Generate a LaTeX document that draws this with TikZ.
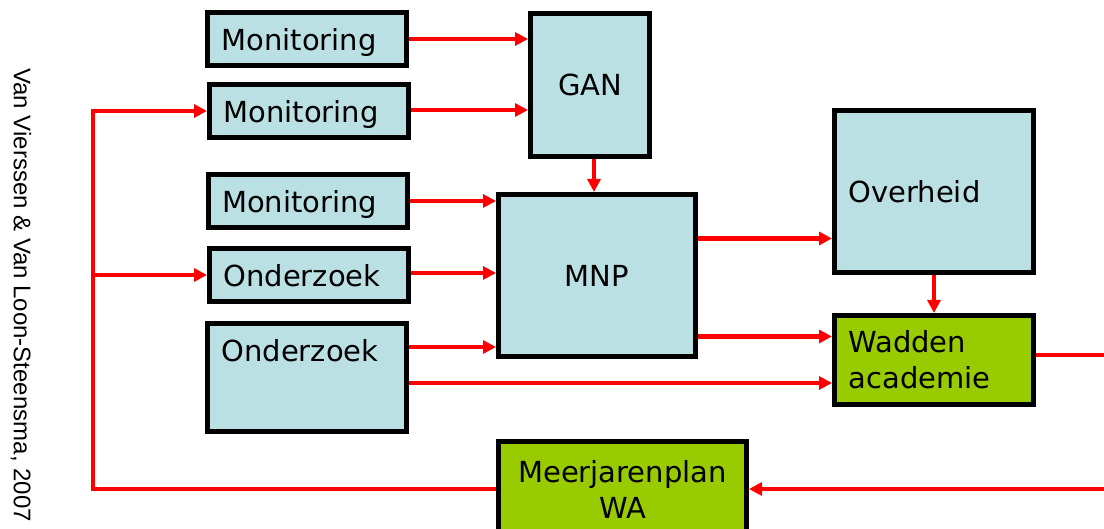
\documentclass[tikz,border=0pt]{standalone}
\usepackage{fontspec}
\setmainfont{DejaVu Sans}
\newfontfamily\bronfont{Liberation Sans}
\usepackage{tikz}
\usetikzlibrary{arrows.meta,calc,positioning}
\definecolor{lichtblauw}{RGB}{187,224,227}
\definecolor{wadgroen}{RGB}{153,204,0}
\tikzset{every picture/.style={
  >={Triangle[length=13pt,width=13pt]}   % Filled triangle tips.
  }
}

\begin{document}
\begin{tikzpicture}[
        x=1pt,
        y=-1pt,
        blok/.style={
          draw,
          line width=5pt,
          fill=#1,
          inner xsep=14pt,
          inner ysep=0pt,
          font=\fontsize{29}{36}\selectfont
        },
        blok/.default=lichtblauw,
        smal/.style={
          blok,
          align=left,
          text width=171pt,
          text depth=0pt,
          minimum height=53pt
        },
        stroom/.style={
          draw=red,
          line width=4.5pt
        }]

        \useasboundingbox (0,0) rectangle (1104,529);

        % Helper macro: horizontal link from a box to the box on its right.
        \def\h#1#2#3{\draw[stroom,->] ([yshift=#3]#1.east)
          -- ([yshift=#3]#1.east -| #2.west);}

        % Source.
        \node[font=\bronfont\fontsize{24}{24}\selectfont,rotate=-90] (bron)
          at (21,295) {Van Vierssen \& Van Loon-Steensma, 2007};

        % Draw the boxes.
        \node[smal] (mon1) at (307,39)    {Monitoring};
        \node[smal] (mon2) at (309,111)   {Monitoring};
        \node[smal] (mon3) at (307.5,201) {Monitoring};
        \node[smal] (ond1) at (309,275)   {Onderzoek};
        \node[blok,align=left,text width=171pt,
          text height=38pt,text depth=70pt] (ond2) at (307,378) {Onderzoek};
        \node[blok,minimum width=119pt,minimum height=143pt] (gan) at (590,85) {GAN};
        \node[blok,minimum width=197pt,minimum height=162pt] (mnp) at (597,275.5) {MNP};
        \node[blok,align=left,text width=171pt,minimum height=162pt] (over)
          at (934,191.5) {Overheid};
        \node[blok=wadgroen,align=left,text width=171pt,minimum height=89pt] (wad)
          at (934,360) {Wadden\\academie};
        \node[blok=wadgroen,align=center,minimum width=248pt,minimum height=95pt] (plan)
          at (622.5,489) {Meerjarenplan\\WA};

        % Free ends and the return line.
        \coordinate (rand) at (1106,0);
        \coordinate (lus) at (93,0);

        % Add links.
        \h{mon1}{gan}{0pt}
        \h{mon2}{gan}{1pt}
        \h{mon3}{mnp}{0pt}
        \h{ond1}{mnp}{2pt}
        \h{ond2}{mnp}{31pt}
        \h{ond2}{wad}{-5pt}
        \h{mnp}{over}{37pt}
        \h{mnp}{wad}{-61pt}
        \draw[stroom,->] ([xshift=4pt]gan.south) -- ([xshift=4pt]gan.south |- mnp.north);
        \draw[stroom,->] (over.south) -- (wad.north);
        \draw[stroom] ([yshift=5pt]wad.east) -- ([yshift=5pt]wad.east -| rand);
        \draw[stroom,->] (rand |- plan.east) -- (plan.east);
        \draw[stroom,->] (plan.west) -| (lus |- mon2.west) -- (mon2.west);
        \draw[stroom,->] (lus |- ond1.west) -- (ond1.west);
      \end{tikzpicture}
\end{document}
